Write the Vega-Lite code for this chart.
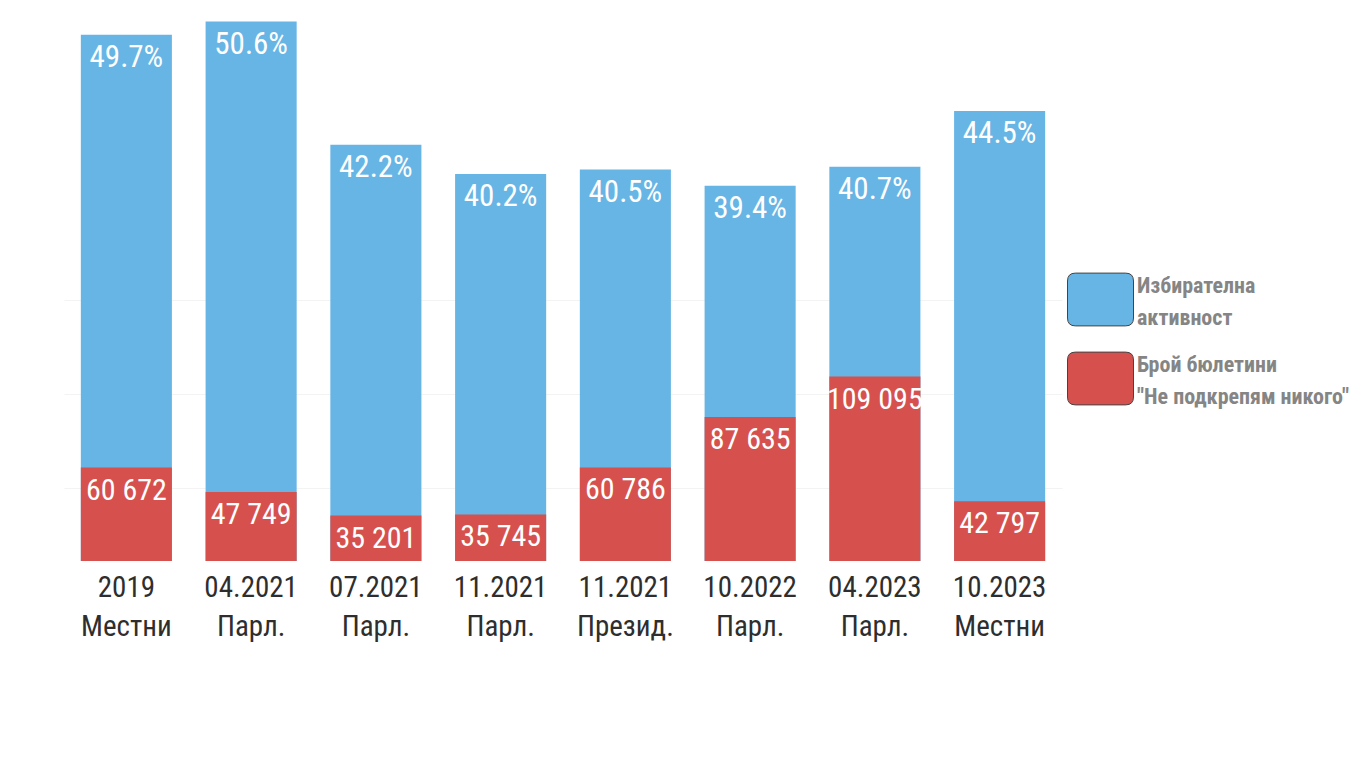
{
  "$schema": "https://vega.github.io/schema/vega-lite/v6.json",
  "autosize": "none",
  "width": 998,
  "height": 561,
  "padding": {"left": 64, "top": 0, "right": 304, "bottom": 207},
  "background": "white",
  "config": {
    "view": {"stroke": null},
    "font": "Roboto Condensed, DejaVu Sans Condensed, sans-serif",
    "locale": {"number": {"decimal": ".", "thousands": " ", "grouping": [3], "currency": ["", ""]}}
  },
  "data": {
    "values": [
      {"period": "2019 Местни", "turnout": 0.497, "ballots": 60672},
      {"period": "04.2021 Парл.", "turnout": 0.506, "ballots": 47749},
      {"period": "07.2021 Парл.", "turnout": 0.422, "ballots": 35201},
      {"period": "11.2021 Парл.", "turnout": 0.402, "ballots": 35745},
      {"period": "11.2021 Презид.", "turnout": 0.405, "ballots": 60786},
      {"period": "10.2022 Парл.", "turnout": 0.394, "ballots": 87635},
      {"period": "04.2023 Парл.", "turnout": 0.407, "ballots": 109095},
      {"period": "10.2023 Местни", "turnout": 0.445, "ballots": 42797}
    ]
  },
  "encoding": {
    "x": {
      "field": "period",
      "type": "nominal",
      "sort": null,
      "title": null,
      "scale": {"paddingInner": 0.27, "paddingOuter": 0.135},
      "axis": {
        "labelAngle": 0,
        "labelExpr": "split(datum.label, ' ')",
        "labelFontSize": 29,
        "labelLineHeight": 39,
        "labelColor": "#2e2e2e",
        "labelPadding": 12,
        "labelBaseline": "top",
        "domain": false,
        "ticks": false,
        "grid": false
      }
    }
  },
  "layer": [
    {
      "layer": [
        {
          "mark": {"type": "bar"},
          "encoding": {
            "y": {"field": "turnout", "type": "quantitative", "scale": {"domain": [0.138, 0.5207], "zero": false, "nice": false}, "axis": null},
            "y2": {"datum": 0.138},
            "color": {"datum": "Избирателна активност", "type": "nominal",
              "scale": {"domain": ["Избирателна активност", "Брой бюлетини \"Не подкрепям никого\""], "range": ["#67b5e5", "#d6514d"]},
              "legend": {
                "title": null,
                "orient": "none",
                "legendX": 1003,
                "legendY": 266,
                "symbolType": "M-0.76,-0.8 L0.76,-0.8 Q1,-0.8 1,-0.56 L1,0.56 Q1,0.8 0.76,0.8 L-0.76,0.8 Q-1,0.8 -1,0.56 L-1,-0.56 Q-1,-0.8 -0.76,-0.8 Z",
                "symbolSize": 4356,
                "symbolStrokeColor": "#444444",
                "symbolStrokeWidth": 1,
                "symbolOpacity": 1,
                "labelExpr": "datum.label == 'Избирателна активност' ? ['Избирателна', 'активност'] : ['Брой бюлетини', '\"Не подкрепям никого\"']",
                "labelFontSize": 22,
                "labelFontWeight": "bold",
                "labelColor": "#858585",
                "labelOffset": 3,
                "labelLimit": 300,
                "rowPadding": 16,
                "labelBaseline": "middle",
                "encode": {"labels": {"update": {"lineHeight": {"value": 32}, "dy": {"value": -14}}}},
                "encoding": {"labels": {"update": {"lineHeight": {"value": 32}, "dy": {"value": -14}}}}
              }
            }
          }
        },
        {
          "mark": {"type": "text", "baseline": "top", "dy": 8, "fontSize": 31, "color": "white"},
          "encoding": {
            "y": {"field": "turnout", "type": "quantitative"},
            "text": {"field": "turnout", "type": "quantitative", "format": ".1%"}
          }
        }
      ]
    },
    {
      "layer": [
        {
          "mark": {"type": "bar"},
          "encoding": {
            "y": {"field": "ballots", "type": "quantitative", "scale": {"domain": [11000, 309404], "zero": false, "nice": false},
              "axis": {"values": [50000, 100000, 150000], "grid": true, "gridColor": "#f3f3f3", "labels": false, "ticks": false, "domain": false, "title": null}},
            "y2": {"datum": 11000},
            "color": {"datum": "Брой бюлетини \"Не подкрепям никого\"", "type": "nominal"}
          }
        },
        {
          "mark": {"type": "text", "baseline": "top", "dy": 8, "fontSize": 30, "color": "white"},
          "encoding": {
            "y": {"field": "ballots", "type": "quantitative"},
            "text": {"field": "ballots", "type": "quantitative", "format": ",d"}
          }
        }
      ]
    }
  ],
  "resolve": {"scale": {"y": "independent"}}
}
